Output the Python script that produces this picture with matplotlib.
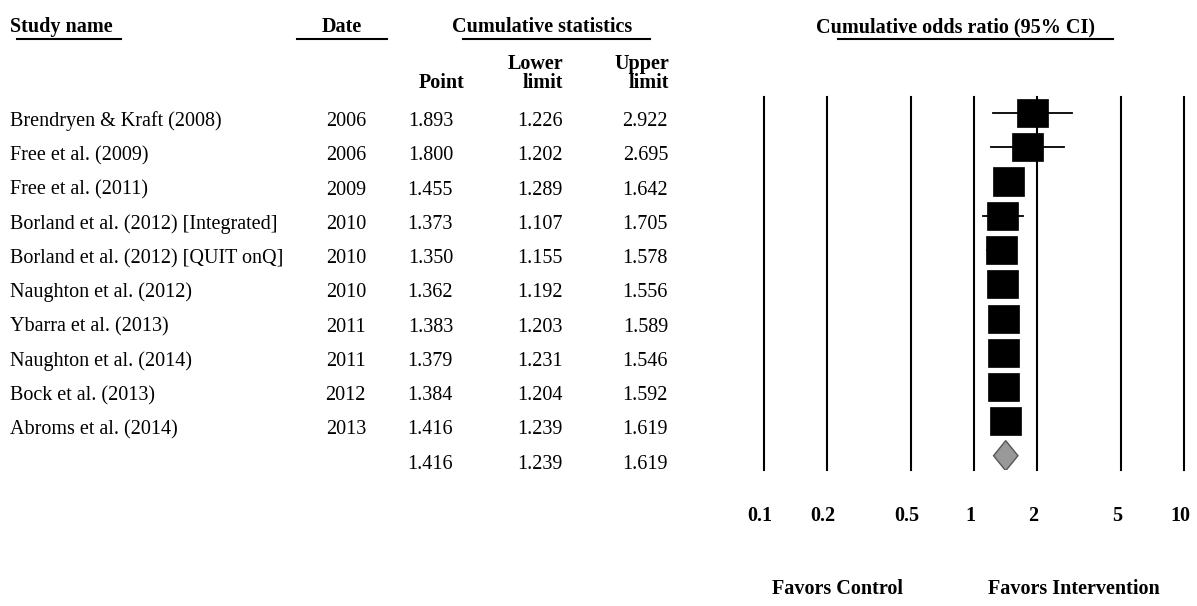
import numpy as np
import matplotlib
matplotlib.use("Agg")
import matplotlib.pyplot as plt
from matplotlib.patches import Rectangle, Polygon

plt.rcParams['font.family'] = ['Liberation Serif', 'DejaVu Serif']

# cumulative meta-analysis results
studies = ["Brendryen & Kraft (2008)", "Free et al. (2009)", "Free et al. (2011)",
           "Borland et al. (2012) [Integrated]", "Borland et al. (2012) [QUIT onQ]",
           "Naughton et al. (2012)", "Ybarra et al. (2013)", "Naughton et al. (2014)",
           "Bock et al. (2013)", "Abroms et al. (2014)"]
dates = ["2006", "2006", "2009", "2010", "2010", "2010", "2011", "2011", "2012", "2013"]
point = [1.893, 1.800, 1.455, 1.373, 1.350, 1.362, 1.383, 1.379, 1.384, 1.416]
lower = [1.226, 1.202, 1.289, 1.107, 1.155, 1.192, 1.203, 1.231, 1.204, 1.239]
upper = [2.922, 2.695, 1.642, 1.705, 1.578, 1.556, 1.589, 1.546, 1.592, 1.619]
summary = (1.416, 1.239, 1.619)
ticks = [0.1, 0.2, 0.5, 1, 2, 5, 10]
tick_labels = ["0.1", "0.2", "0.5", "1", "2", "5", "10"]

W, H = 1197, 606
fig = plt.figure(figsize=(W / 100, H / 100), dpi=100)

# table layer, pixel units
tab = fig.add_axes([0, 0, 1, 1])
tab.set_xlim(0, W)
tab.set_ylim(H, 0)
tab.axis('off')

fs = 14.5
row0, step = 113, 34.27
nrows = len(studies) + 1


def row_y(i):
    return row0 + step * i


# headers
tab.text(10, 32, "Study name", fontsize=fs, fontweight='bold', ha='left', va='baseline')
tab.text(342, 32, "Date", fontsize=fs, fontweight='bold', ha='center', va='baseline')
tab.text(542, 32, "Cumulative statistics", fontsize=fs, fontweight='bold', ha='center', va='baseline')
tab.text(955, 32, "Cumulative odds ratio (95% CI)", fontsize=fs, fontweight='bold', ha='center', va='baseline')
for x0, x1 in [(17, 121), (297, 387), (463, 650), (838, 1113)]:
    tab.plot([x0, x1], [39, 39], color='black', lw=1.5)

tab.text(465, 88, "Point", fontsize=fs, fontweight='bold', ha='right', va='baseline')
tab.text(563, 88, "Lower\nlimit", fontsize=fs, fontweight='bold', ha='right', va='baseline',
         multialignment='right', linespacing=0.95)
tab.text(669, 88, "Upper\nlimit", fontsize=fs, fontweight='bold', ha='right', va='baseline',
         multialignment='right', linespacing=0.95)

# rows
for i, name in enumerate(studies):
    yb = row_y(i) + 13
    tab.text(10, yb, name, fontsize=fs, ha='left', va='baseline')
    tab.text(366, yb, dates[i], fontsize=fs, ha='right', va='baseline')
    tab.text(453, yb, f"{point[i]:.3f}", fontsize=fs, ha='right', va='baseline')
    tab.text(563, yb, f"{lower[i]:.3f}", fontsize=fs, ha='right', va='baseline')
    tab.text(668, yb, f"{upper[i]:.3f}", fontsize=fs, ha='right', va='baseline')
yb = row_y(nrows - 1) + 13
tab.text(453, yb, f"{summary[0]:.3f}", fontsize=fs, ha='right', va='baseline')
tab.text(563, yb, f"{summary[1]:.3f}", fontsize=fs, ha='right', va='baseline')
tab.text(668, yb, f"{summary[2]:.3f}", fontsize=fs, ha='right', va='baseline')

# forest plot
top_px, bot_px = 97, 470
left_px, right_px = 764, 1184
ax = fig.add_axes([left_px / W, (H - bot_px) / H, (right_px - left_px) / W, (bot_px - top_px) / H])
ax.set_xscale('log')
ax.set_xlim(0.1, 10)
ax.set_ylim((bot_px - row0) / step, -(row0 - top_px) / step)
ax.axis('off')

for t in ticks:
    ax.axvline(t, color='black', lw=1.5, zorder=1, clip_on=False)

half_w = 0.074   # square half width, in decades
sq_h = 0.82      # square height, in rows
for i in range(len(studies)):
    ax.plot([lower[i], upper[i]], [i, i], color='black', lw=1.3, zorder=2)
    x0 = point[i] / 10 ** half_w
    x1 = point[i] * 10 ** half_w
    ax.add_patch(Rectangle((x0, i - sq_h / 2), x1 - x0, sq_h, facecolor='black',
                           edgecolor='black', lw=0.5, zorder=3))

p, lo, hi = summary
ys = nrows - 1
ax.add_patch(Polygon([(lo, ys), (p, ys - 0.44), (hi, ys), (p, ys + 0.44)], closed=True,
                     facecolor='#999999', edgecolor='#555555', lw=1, zorder=3))

# axis labels below the plot
for t, lab in zip(ticks, tick_labels):
    xp = left_px + (np.log10(t) + 1) / 2 * (right_px - left_px) - 4
    tab.text(xp, 521, lab, fontsize=fs, fontweight='bold', ha='center', va='baseline')

tab.text(837, 594, "Favors Control", fontsize=fs, fontweight='bold', ha='center', va='baseline')
tab.text(1074, 594, "Favors Intervention", fontsize=fs, fontweight='bold', ha='center', va='baseline')

fig.savefig("out.png", dpi=100, facecolor='white')
